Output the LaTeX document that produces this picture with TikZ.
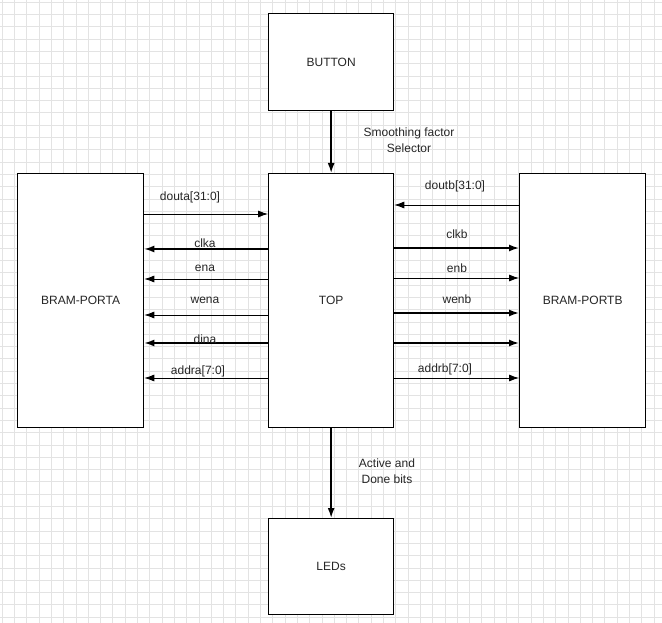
\documentclass[tikz,border=0pt]{standalone}
\usepackage{fontspec}
\setmainfont{Liberation Sans}
\usetikzlibrary{arrows.meta}
\begin{document}
\begin{tikzpicture}[x=1pt,y=-1pt,
 box/.style={draw,line width=1.3pt,fill=white},
 lab/.style={font=\fontsize{12}{16.5}\selectfont,align=center,text=black!85},
 thin/.style={-{Latex[length=10pt,width=7pt]},line width=0.8pt},
 thick/.style={-{Latex[length=10pt,width=7pt]},line width=1.6pt}]
\useasboundingbox (0,0) rectangle (662,623);
\fill[white] (0,0) rectangle (662,623);
\foreach \i in {0,...,54}{\draw[gray!22,line width=0.5pt] (\i*12.3+2,0)--(\i*12.3+2,623);}
\foreach \i in {0,...,51}{\draw[gray!22,line width=0.5pt] (0,\i*12.3+2)--(662,\i*12.3+2);}
\node[box,minimum width=125pt,minimum height=97pt,anchor=north west] (btn) at (268,13) {};
\node[lab] at (btn.center) {BUTTON};
\node[box,minimum width=125pt,minimum height=254pt,anchor=north west] (top) at (268,173) {};
\node[lab] at (top.center) {TOP};
\node[box,minimum width=126pt,minimum height=254pt,anchor=north west] (pa) at (17,173) {};
\node[lab] at (pa.center) {BRAM-PORTA};
\node[box,minimum width=126pt,minimum height=254pt,anchor=north west] (pb) at (519,173) {};
\node[lab] at (pb.center) {BRAM-PORTB};
\node[box,minimum width=125pt,minimum height=96pt,anchor=north west] (led) at (268,518) {};
\node[lab] at (led.center) {LEDs};
\draw[thick] (btn.south) -- (top.north);
\node[lab] (sf) at (409,140) {Smoothing factor\\Selector};
\draw[thick] (top.south) -- (led.north);
\node[lab] (ad) at (387,471) {Active and\\Done bits};
% left
\draw[thin] (pa.east|-0,214) -- (top.west|-0,214);
\draw[thick] (top.west|-0,249) -- (pa.east|-0,249);
\draw[thin] (top.west|-0,279) -- (pa.east|-0,279);
\draw[thin] (top.west|-0,315) -- (pa.east|-0,315);
\draw[thick] (top.west|-0,343) -- (pa.east|-0,343);
\draw[thin] (top.west|-0,378) -- (pa.east|-0,378);
\node[lab] (l1) at (190,197) {douta[31:0]};
\node[lab] (l2) at (205,243) {clka};
\node[lab] (l3) at (205,268) {ena};
\node[lab] (l4) at (205,300) {wena};
\node[lab] (l5) at (205,339) {dina};
\node[lab] (l6) at (198,371) {addra[7:0]};
% right
\draw[thin] (pb.west|-0,205) -- (top.east|-0,205);
\draw[thick] (top.east|-0,248) -- (pb.west|-0,248);
\draw[thin] (top.east|-0,278) -- (pb.west|-0,278);
\draw[thick] (top.east|-0,313) -- (pb.west|-0,313);
\draw[thick] (top.east|-0,343) -- (pb.west|-0,343);
\draw[thin] (top.east|-0,378) -- (pb.west|-0,378);
\node[lab] (r1) at (455,186) {doutb[31:0]};
\node[lab] (r2) at (457,234) {clkb};
\node[lab] (r3) at (457,268) {enb};
\node[lab] (r4) at (457,299) {wenb};
\node[lab] (r6) at (445,369) {addrb[7:0]};
\end{tikzpicture}
\end{document}
